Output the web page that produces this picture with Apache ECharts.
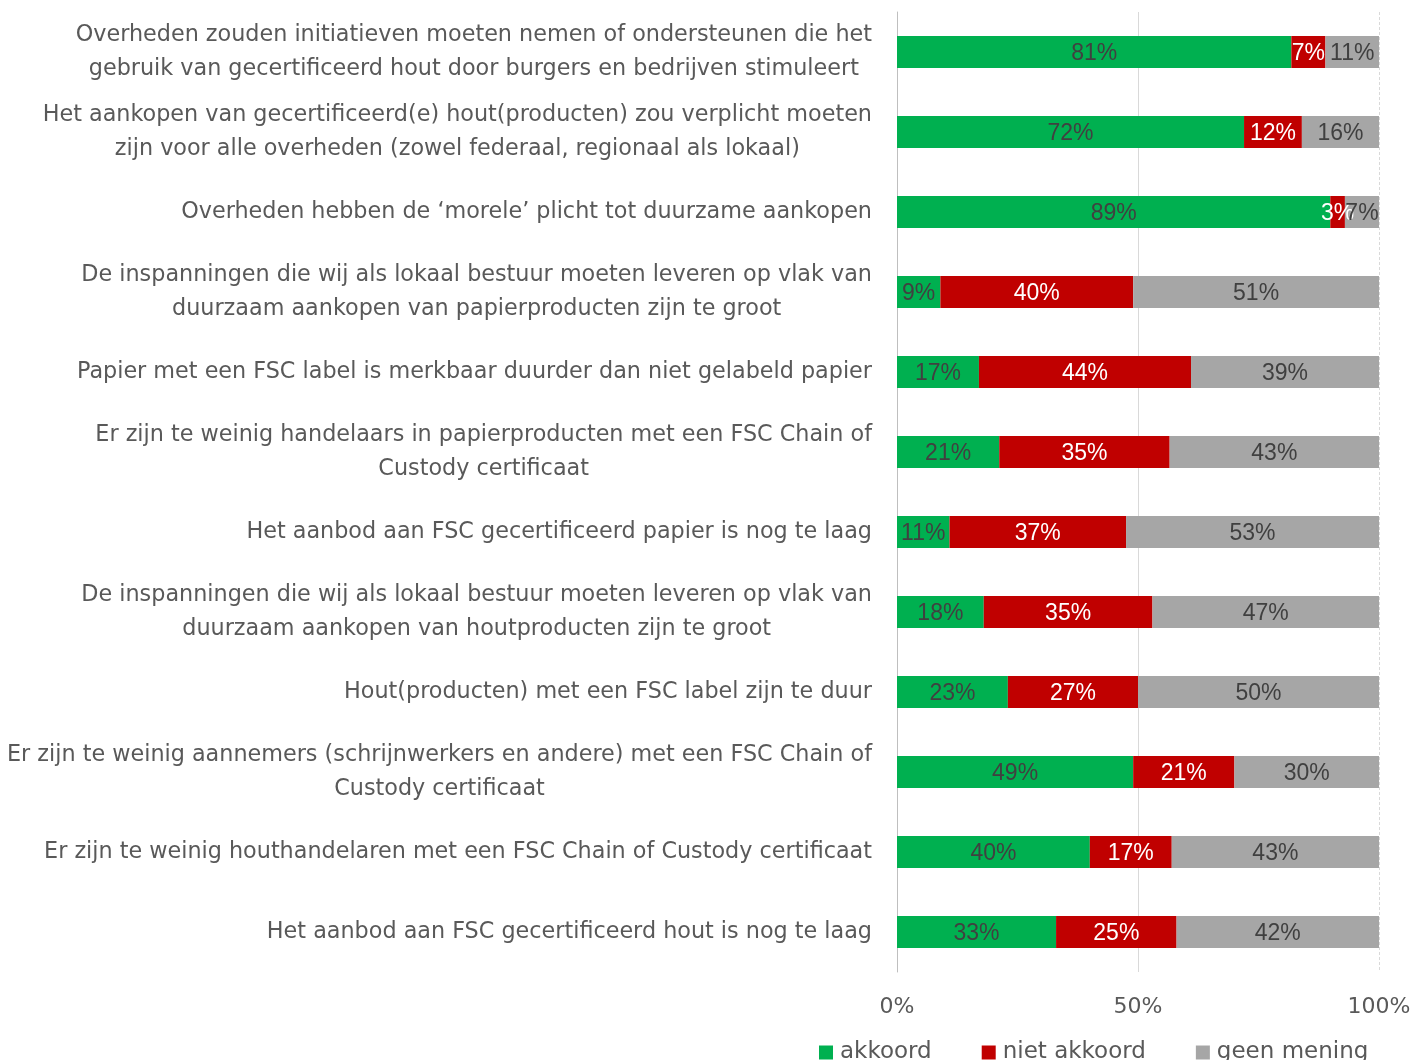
<!DOCTYPE html>
<html>
<head>
<meta charset="utf-8">
<script src="https://cdn.jsdelivr.net/npm/echarts@6/dist/echarts.min.js"></script>
<style>
  html, body { margin: 0; padding: 0; background: #ffffff; }
  #chart { width: 1426px; height: 1060px; }
</style>
</head>
<body>
<div id="chart"></div>
<script>
const categories = [
  'Overheden zouden initiatieven moeten nemen of ondersteunen die het\ngebruik van gecertificeerd hout door burgers en bedrijven stimuleert',
  'Het aankopen van gecertificeerd(e) hout(producten) zou verplicht moeten\nzijn voor alle overheden (zowel federaal, regionaal als lokaal)',
  'Overheden hebben de \u2018morele\u2019 plicht tot duurzame aankopen',
  'De inspanningen die wij als lokaal bestuur moeten leveren op vlak van\nduurzaam aankopen van papierproducten zijn te groot',
  'Papier met een FSC label is merkbaar duurder dan niet gelabeld papier',
  'Er zijn te weinig handelaars in papierproducten met een FSC Chain of\nCustody certificaat',
  'Het aanbod aan FSC gecertificeerd papier is nog te laag',
  'De inspanningen die wij als lokaal bestuur moeten leveren op vlak van\nduurzaam aankopen van houtproducten zijn te groot',
  'Hout(producten) met een FSC label zijn te duur',
  'Er zijn te weinig aannemers (schrijnwerkers en andere) met een FSC Chain of\nCustody certificaat',
  'Er zijn te weinig houthandelaren met een FSC Chain of Custody certificaat',
  'Het aanbod aan FSC gecertificeerd hout is nog te laag'
];

const akkoord     = [81, 72, 89,  9, 17, 21, 11, 18, 23, 49, 40, 33];
const nietAkkoord = [ 7, 12,  3, 40, 44, 35, 37, 35, 27, 21, 17, 25];
const geenMening  = [11, 16,  7, 51, 39, 43, 53, 47, 50, 30, 43, 42];

const seriesNames = ['akkoord', 'niet akkoord', 'geen mening'];
const colors = ['#00b050', '#c00000', '#a6a6a6'];
const xTicks = [0, 50, 100];

const labelFont = 'DejaVu Sans, Liberation Sans, sans-serif';

// 100% stacked: every row is scaled to its own total, labels keep the read value
function share(arr, i) {
  let total = akkoord[i] + nietAkkoord[i] + geenMening[i];
  return arr[i] / total * 100;
}

function makeSeries(name, arr, color, labelColor) {
  return {
    name: name,
    type: 'bar',
    stack: 'total',
    barWidth: 32,
    itemStyle: { color: color },
    label: {
      show: true,
      position: 'inside',
      color: labelColor,
      fontFamily: 'Liberation Sans, sans-serif',
      fontSize: 23,
      offset: [0, 2],
      formatter: (p) => arr[p.dataIndex] + '%'
    },
    emphasis: { disabled: true },
    data: arr.map((v, i) => share(arr, i))
  };
}

let chart = echarts.init(document.getElementById('chart'));

let option = {
  animation: false,
  textStyle: { fontFamily: labelFont },
  color: colors,
  grid: { left: 897, right: 47, top: 12, bottom: 88, containLabel: false, outerBoundsMode: 'none' },
  legend: {
    data: seriesNames,
    left: 814,
    top: 1036,
    itemWidth: 14,
    itemHeight: 14,
    itemGap: 50,
    icon: 'rect',
    textStyle: { color: '#595959', fontSize: 23, fontFamily: labelFont, padding: [0, 0, 0, 2] }
  },
  xAxis: [
    {
      type: 'value',
      min: 0,
      max: 100,
      interval: 50,
      axisLine: { show: false },
      axisTick: { show: false },
      axisLabel: {
        color: '#595959',
        fontSize: 22,
        margin: 24,
        formatter: (v) => xTicks.includes(v) ? v + '%' : ''
      },
      splitLine: { lineStyle: { color: ['transparent', '#d9d9d9', 'transparent'], width: 1 } }
    },
    {
      type: 'value',
      min: 0,
      max: 100,
      interval: 100,
      position: 'bottom',
      axisLine: { show: false },
      axisTick: { show: false },
      axisLabel: { show: false },
      splitLine: { lineStyle: { color: ['transparent', '#d9d9d9'], type: [3, 2], width: 1 } }
    }
  ],
  yAxis: {
    type: 'category',
    inverse: true,
    data: categories,
    axisTick: { show: false },
    axisLine: { lineStyle: { color: '#bfbfbf', width: 1 } },
    axisLabel: {
      color: '#595959',
      fontSize: 22.3,
      margin: 25,
      align: 'right',
      formatter: (v) => v.split('\n').map(s => '{c|' + s + '}').join('\n'),
      rich: {
        c: { align: 'center', color: '#595959', fontSize: 22.3, lineHeight: 34, fontFamily: labelFont }
      }
    }
  },
  series: [
    makeSeries(seriesNames[0], akkoord, colors[0], '#404040'),
    makeSeries(seriesNames[1], nietAkkoord, colors[1], '#ffffff'),
    makeSeries(seriesNames[2], geenMening, colors[2], '#404040')
  ]
};

chart.setOption(option);
</script>
</body>
</html>
